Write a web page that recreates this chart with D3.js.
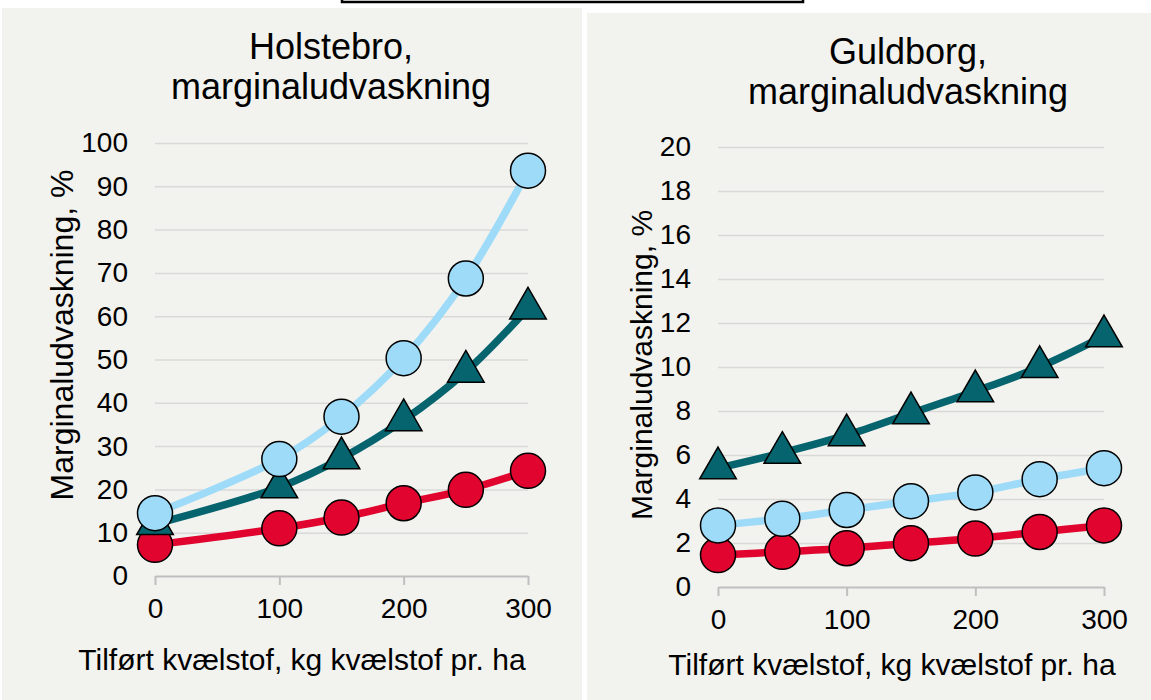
<!DOCTYPE html>
<html>
<head>
<meta charset="utf-8">
<script src="https://cdn.jsdelivr.net/npm/d3@7"></script>
<style>
  body { margin: 0; background: #ffffff; }
  svg { display: block; font-family: "Liberation Sans", Arial, sans-serif; }
  .grid line { stroke: #d9d9d9; stroke-width: 1.5; }
  .xaxis path, .xaxis line { stroke: #bfbfbf; stroke-width: 2; }
  text { fill: #000; }
</style>
</head>
<body>
<svg id="chart"></svg>
<script>
// Holstebro
const holstebroX = [0, 100, 150, 200, 250, 300]
const holstebroBlue = [14.5, 27.0, 36.8, 50.3, 68.7, 93.6]
const holstebroTeal = [12.0, 20.5, 27.2, 36.0, 47.2, 61.8]
const holstebroRed = [7.2, 11.0, 13.5, 16.8, 19.9, 24.3]
const holstebroYTicks = [0, 10, 20, 30, 40, 50, 60, 70, 80, 90, 100]

// Guldborg
const guldborgX = [0, 50, 100, 150, 200, 250, 300]
const guldborgTeal = [5.4, 6.1, 6.9, 7.9, 8.9, 10.0, 11.4]
const guldborgBlue = [2.8, 3.1, 3.5, 3.9, 4.3, 4.9, 5.4]
const guldborgRed = [1.45, 1.6, 1.76, 1.99, 2.2, 2.5, 2.8]
const guldborgYTicks = [0, 2, 4, 6, 8, 10, 12, 14, 16, 18, 20]

const xTicks = [0, 100, 200, 300]
const xTitle = "Tilført kvælstof, kg kvælstof pr. ha"
const yTitle = "Marginaludvaskning, %"

const blue = "#9ddbf8"
const teal = "#05646e"
const red = "#e0042e"

let width = 1151
let height = 700

let svg = d3.select("#chart")
    .attr("width", width)
    .attr("height", height)

// the box edge peeking in at the top
svg.append("rect")
    .attr("x", 342).attr("y", -20)
    .attr("width", 461).attr("height", 22)
    .attr("fill", "#fff").attr("stroke", "#000").attr("stroke-width", 2.5)

let panels = [
  { bg: [2, 8, 580, 692], title: ["Holstebro,", "marginaludvaskning"], titleX: 331, titleY: 59,
    left: 155, right: 528, top: 143, bottom: 576, yMax: 100, yTicks: holstebroYTicks,
    yTitleX: 62, yTitleY: 335, yTitleSize: 32, xTitleX: 302, xTitleY: 670,
    series: [
      { x: holstebroX, y: holstebroRed, color: red, shape: "circle" },
      { x: holstebroX, y: holstebroTeal, color: teal, shape: "triangle" },
      { x: holstebroX, y: holstebroBlue, color: blue, shape: "circle" }
    ] },
  { bg: [587, 13, 564, 687], title: ["Guldborg,", "marginaludvaskning"], titleX: 908, titleY: 64,
    left: 718, right: 1104, top: 147, bottom: 587, yMax: 20, yTicks: guldborgYTicks,
    yTitleX: 641, yTitleY: 365, yTitleSize: 30, xTitleX: 892, xTitleY: 675,
    series: [
      { x: guldborgX, y: guldborgRed, color: red, shape: "circle" },
      { x: guldborgX, y: guldborgBlue, color: blue, shape: "circle" },
      { x: guldborgX, y: guldborgTeal, color: teal, shape: "triangle" }
    ] }
]

panels.forEach(p => {
  svg.append("rect")
      .attr("x", p.bg[0]).attr("y", p.bg[1])
      .attr("width", p.bg[2]).attr("height", p.bg[3])
      .attr("fill", "#f2f2ee")

  let xScale = d3.scaleLinear().domain([0, 300]).range([p.left, p.right])
  let yScale = d3.scaleLinear().domain([0, p.yMax]).range([p.bottom, p.top])

  // gridlines + y labels
  let gy = svg.append("g")
      .attr("class", "grid")
      .attr("transform", `translate(${p.left}, 0)`)
      .call(d3.axisLeft(yScale).tickValues(p.yTicks).tickSize(-(p.right - p.left)).tickPadding(27))
  gy.select(".domain").remove()
  gy.selectAll(".tick").filter(d => d === 0).select("line").remove()
  gy.selectAll("text").attr("font-size", 28).attr("font-family", "Liberation Sans, Arial, sans-serif").attr("fill", "#000")

  // x axis
  let gx = svg.append("g")
      .attr("class", "xaxis")
      .attr("transform", `translate(0, ${p.bottom})`)
      .call(d3.axisBottom(xScale).tickValues(xTicks).tickSizeInner(9).tickSizeOuter(0).tickPadding(13))
  gx.selectAll("text").attr("font-size", 28).attr("font-family", "Liberation Sans, Arial, sans-serif").attr("fill", "#000")

  // titles
  let t = svg.append("text")
      .attr("x", p.titleX).attr("y", p.titleY)
      .attr("text-anchor", "middle")
      .attr("font-size", 36)
  p.title.forEach((line, i) => {
    t.append("tspan").attr("x", p.titleX).attr("dy", i === 0 ? 0 : 40).text(line)
  })

  svg.append("text")
      .attr("x", p.xTitleX)
      .attr("y", p.xTitleY)
      .attr("text-anchor", "middle")
      .attr("font-size", 30)
      .text(xTitle)

  svg.append("text")
      .attr("transform", `translate(${p.yTitleX}, ${p.yTitleY}) rotate(-90)`)
      .attr("text-anchor", "middle")
      .attr("dy", "0.35em")
      .attr("font-size", p.yTitleSize)
      .text(yTitle)

  let line = d3.line()
      .x(d => xScale(d[0]))
      .y(d => yScale(d[1]))
      .curve(d3.curveCatmullRom.alpha(0.5))

  p.series.forEach(s => {
    let pts = s.x.map((x, i) => [x, s.y[i]])
    svg.append("path")
        .datum(pts)
        .attr("d", line)
        .attr("fill", "none")
        .attr("stroke", s.color)
        .attr("stroke-width", 7.5)
  })

  p.series.forEach(s => {
    let pts = s.x.map((x, i) => [x, s.y[i]])
    let sym = s.shape === "circle" ? d3.symbolCircle : d3.symbolTriangle
    let size = s.shape === "circle" ? Math.PI * 17.5 * 17.5 : 580
    svg.append("g").selectAll("path")
        .data(pts)
        .join("path")
        .attr("transform", d => `translate(${xScale(d[0])}, ${yScale(d[1])})`)
        .attr("d", d3.symbol().type(sym).size(size))
        .attr("fill", s.color)
        .attr("stroke", "#000")
        .attr("stroke-width", 1.5)
  })
})
</script>
</body>
</html>
